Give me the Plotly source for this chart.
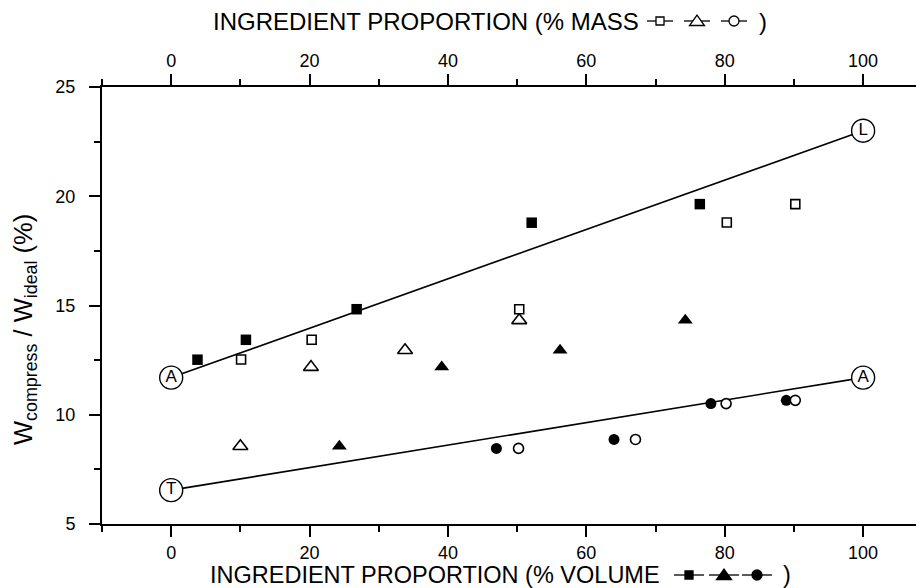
import plotly.graph_objects as go

# ---------------- data ----------------
# volume-based series (bottom axis, filled markers)
vol_sq_x = [3.8, 10.8, 26.8, 52.1, 76.4]
vol_sq_y = [12.52, 13.43, 14.83, 18.79, 19.64]
vol_tri_x = [24.3, 39.1, 56.2, 74.3]
vol_tri_y = [8.56, 12.18, 12.95, 14.32]
vol_cir_x = [47.0, 64.0, 78.0, 88.9]
vol_cir_y = [8.46, 8.87, 10.51, 10.66]

# mass-based series (top axis, open markers)
mass_sq_x = [10.1, 20.3, 50.3, 80.3, 90.2]
mass_sq_y = [12.53, 13.43, 14.83, 18.80, 19.64]
mass_tri_x = [10.0, 20.2, 33.8, 50.3]
mass_tri_y = [8.56, 12.18, 12.95, 14.32]
mass_cir_x = [50.2, 67.1, 80.2, 90.2]
mass_cir_y = [8.46, 8.87, 10.51, 10.66]

# reference lines between pure components
upper_x = [0, 100]
upper_y = [11.7, 23.0]
upper_labels = ["A", "L"]
lower_x = [0, 100]
lower_y = [6.55, 11.7]
lower_labels = ["T", "A"]

x_ticks = [0, 20, 40, 60, 80, 100]
y_ticks = [5, 10, 15, 20, 25]

FONT = "Liberation Sans, Arial, Helvetica, sans-serif"
OFF = 8  # page body margin offset
W, H = 924 - OFF, 588 - OFF
ML, MR, MT, MB = 102 - OFF, 0, 87 - OFF, 64
PW, PH = W - ML - MR, H - MT - MB


def pxx(px):
    # screen pixel x -> paper
    return (px - OFF - ML) / PW


def pxy(py):
    # screen pixel y -> paper
    return (H - MB - (py - OFF)) / PH


fig = go.Figure()

# lines
for xs, ys in [(upper_x, upper_y), (lower_x, lower_y)]:
    fig.add_trace(go.Scatter(x=xs, y=ys, mode="lines", xaxis="x", yaxis="y",
                             line=dict(color="black", width=1.6), showlegend=False,
                             hoverinfo="skip"))

mk_line = dict(color="black", width=1.6)
# filled (volume) markers
fig.add_trace(go.Scatter(x=vol_sq_x, y=vol_sq_y, mode="markers", xaxis="x", yaxis="y",
                         marker=dict(symbol="square", size=10.5, color="black"), showlegend=False))
fig.add_trace(go.Scatter(x=vol_tri_x, y=vol_tri_y, mode="markers", xaxis="x", yaxis="y",
                         marker=dict(symbol="triangle-up", size=13, color="black"), showlegend=False))
fig.add_trace(go.Scatter(x=vol_cir_x, y=vol_cir_y, mode="markers", xaxis="x", yaxis="y",
                         marker=dict(symbol="circle", size=11, color="black"), showlegend=False))
# open (mass) markers on top axis
fig.add_trace(go.Scatter(x=mass_tri_x, y=mass_tri_y, mode="markers", xaxis="x2", yaxis="y",
                         marker=dict(symbol="triangle-up", size=13, color="white", line=mk_line),
                         showlegend=False))
fig.add_trace(go.Scatter(x=mass_sq_x, y=mass_sq_y, mode="markers", xaxis="x2", yaxis="y",
                         marker=dict(symbol="square", size=9, color="white", line=mk_line),
                         showlegend=False))
fig.add_trace(go.Scatter(x=mass_cir_x, y=mass_cir_y, mode="markers", xaxis="x2", yaxis="y",
                         marker=dict(symbol="circle", size=10, color="white", line=mk_line),
                         showlegend=False))

# circled end labels
for xs, ys, labs in [(upper_x, upper_y, upper_labels), (lower_x, lower_y, lower_labels)]:
    fig.add_trace(go.Scatter(x=xs, y=ys, mode="markers+text", xaxis="x", yaxis="y",
                             text=labs, textposition="middle center",
                             textfont=dict(family=FONT, size=17, color="black"),
                             marker=dict(symbol="circle", size=23, color="white",
                                         line=dict(color="black", width=1.4)),
                             cliponaxis=False, showlegend=False))

axis_common = dict(
    showline=True, linecolor="black", linewidth=2,
    ticks="outside", ticklen=11, tickwidth=2, tickcolor="black",
    showgrid=False, zeroline=False,
    tickfont=dict(family=FONT, size=18, color="black"),
)

minor_x = dict(dtick=10, tick0=0, ticklen=6, tickwidth=1.5, tickcolor="black",
               ticks="outside", showgrid=False)

fig.update_layout(
    width=W, height=H,
    margin=dict(l=ML, r=MR, t=MT, b=MB),
    paper_bgcolor="white", plot_bgcolor="white",
    font=dict(family=FONT, color="black"),
    xaxis=dict(range=[-10, 108.8], tickvals=x_ticks, side="bottom", minor=minor_x,
               **axis_common),
    xaxis2=dict(range=[-10, 108.8], tickvals=x_ticks, side="top", overlaying="x",
                anchor="y", minor=minor_x, **axis_common),
    yaxis=dict(range=[5, 25], tickvals=y_ticks,
               minor=dict(dtick=2.5, tick0=0, ticklen=6, tickwidth=1.5, tickcolor="black",
                          ticks="outside", showgrid=False),
               ticklabelstandoff=10,
               **axis_common),
)

title_font = dict(family=FONT, size=24, color="black")
bottom_font = dict(family=FONT, size=23.5, color="black")
annotations = [
    dict(text="INGREDIENT PROPORTION (% MASS", xref="paper", yref="paper",
         x=pxx(641), y=pxy(22), xanchor="right", yanchor="middle",
         showarrow=False, font=title_font),
    dict(text=")", xref="paper", yref="paper", x=pxx(763), y=pxy(22),
         xanchor="center", yanchor="middle", showarrow=False, font=title_font),
    dict(text="INGREDIENT PROPORTION (% VOLUME", xref="paper", yref="paper",
         x=pxx(662), y=pxy(575), xanchor="right", yanchor="middle",
         showarrow=False, font=bottom_font),
    dict(text=")", xref="paper", yref="paper", x=pxx(787), y=pxy(575),
         xanchor="center", yanchor="middle", showarrow=False, font=bottom_font),
    dict(text="W<sub>compress</sub> / W<sub>ideal</sub> (%)", xref="paper", yref="paper",
         x=pxx(25), y=pxy(330), xanchor="center", yanchor="middle", textangle=-90,
         showarrow=False, font=dict(family=FONT, size=25.5, color="black")),
]

shapes = []


def glyph(cx, cy, kind, filled, half=14):
    fill = "black" if filled else "white"
    ln = dict(color="black", width=1.3)
    shapes.append(dict(type="line", xref="paper", yref="paper",
                       x0=pxx(cx - half), x1=pxx(cx + half), y0=pxy(cy), y1=pxy(cy), line=ln))
    if kind == "sq":
        s = 4
        shapes.append(dict(type="rect", xref="paper", yref="paper",
                           x0=pxx(cx - s), x1=pxx(cx + s), y0=pxy(cy + s), y1=pxy(cy - s),
                           fillcolor=fill, line=ln))
    elif kind == "tri":
        path = "M %f,%f L %f,%f L %f,%f Z" % (pxx(cx - 7.5), pxy(cy + 4.5), pxx(cx + 7.5), pxy(cy + 4.5),
                                             pxx(cx), pxy(cy - 6))
        shapes.append(dict(type="path", xref="paper", yref="paper", path=path,
                           fillcolor=fill, line=ln))
    else:
        r = 5
        shapes.append(dict(type="circle", xref="paper", yref="paper",
                           x0=pxx(cx - r), x1=pxx(cx + r), y0=pxy(cy + r), y1=pxy(cy - r),
                           fillcolor=fill, line=ln))


for cx, kind in [(660, "sq"), (697, "tri"), (734, "cir")]:
    glyph(cx, 21, kind, False, half=13)
for cx, kind in [(689, "sq"), (724, "tri"), (757, "cir")]:
    glyph(cx, 575, kind, True, half=15)

fig.update_layout(annotations=annotations, shapes=shapes)

fig.write_html("out.html")
